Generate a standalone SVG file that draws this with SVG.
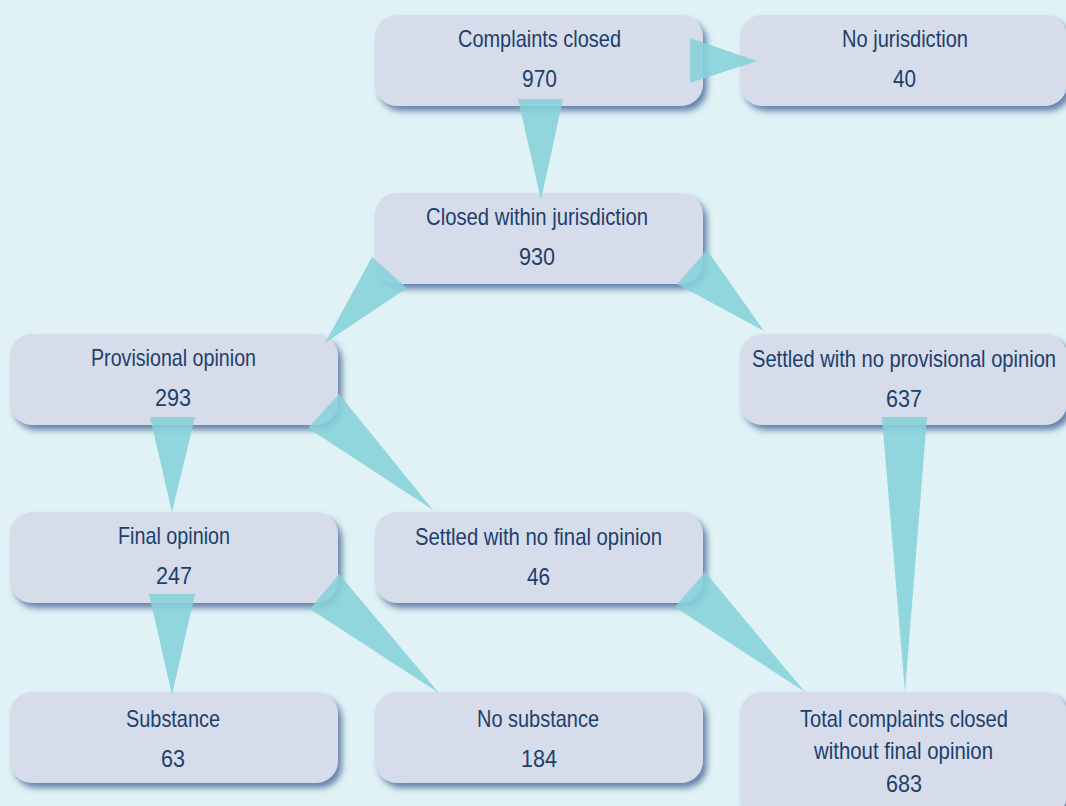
<svg xmlns="http://www.w3.org/2000/svg" width="1066" height="806" viewBox="0 0 1066 806">
<defs>
<filter id="sh" x="-10%" y="-20%" width="125%" height="150%">
<feDropShadow dx="4" dy="5" stdDeviation="3" flood-color="#4f6e9e" flood-opacity="0.85"/>
</filter>
<style>
.box{fill:#d6dce9;filter:url(#sh)}
.t{font-family:"Liberation Sans",Arial,sans-serif;font-size:24px;fill:#1d3f6e;text-anchor:middle}
.c{fill:#86d2da;fill-opacity:0.88}
</style>
</defs>
<rect width="1066" height="806" fill="#e0f2f5"/>
<g id="n-closed"><rect class="box" x="375" y="15" width="328" height="91" rx="22"/><text class="t" x="539.5" y="47" textLength="163" lengthAdjust="spacingAndGlyphs">Complaints closed</text><text class="t" x="539.5" y="87" textLength="35" lengthAdjust="spacingAndGlyphs">970</text></g>
<g id="n-nojur"><rect class="box" x="740" y="15" width="327" height="91" rx="22"/><text class="t" x="905" y="47" textLength="126" lengthAdjust="spacingAndGlyphs">No jurisdiction</text><text class="t" x="904.5" y="87" textLength="23" lengthAdjust="spacingAndGlyphs">40</text></g>
<g id="n-within"><rect class="box" x="375" y="193" width="328" height="91" rx="22"/><text class="t" x="537" y="225" textLength="222" lengthAdjust="spacingAndGlyphs">Closed within jurisdiction</text><text class="t" x="537" y="265" textLength="36" lengthAdjust="spacingAndGlyphs">930</text></g>
<g id="n-prov"><rect class="box" x="10" y="334" width="328" height="91" rx="22"/><text class="t" x="173.5" y="366" textLength="165" lengthAdjust="spacingAndGlyphs">Provisional opinion</text><text class="t" x="173" y="406" textLength="36" lengthAdjust="spacingAndGlyphs">293</text></g>
<g id="n-settprov"><rect class="box" x="740" y="334" width="327" height="91" rx="22"/><text class="t" x="904" y="367" textLength="304" lengthAdjust="spacingAndGlyphs">Settled with no provisional opinion</text><text class="t" x="904" y="407" textLength="36" lengthAdjust="spacingAndGlyphs">637</text></g>
<g id="n-final"><rect class="box" x="10" y="512" width="328" height="91" rx="22"/><text class="t" x="174" y="544" textLength="112" lengthAdjust="spacingAndGlyphs">Final opinion</text><text class="t" x="174" y="584" textLength="36" lengthAdjust="spacingAndGlyphs">247</text></g>
<g id="n-settfinal"><rect class="box" x="375" y="512" width="328" height="91" rx="22"/><text class="t" x="538.5" y="545" textLength="247" lengthAdjust="spacingAndGlyphs">Settled with no final opinion</text><text class="t" x="538.5" y="585" textLength="23" lengthAdjust="spacingAndGlyphs">46</text></g>
<g id="n-subst"><rect class="box" x="10" y="692" width="328" height="91" rx="22"/><text class="t" x="173" y="727" textLength="94" lengthAdjust="spacingAndGlyphs">Substance</text><text class="t" x="173" y="767" textLength="24" lengthAdjust="spacingAndGlyphs">63</text></g>
<g id="n-nosubst"><rect class="box" x="375" y="692" width="328" height="91" rx="22"/><text class="t" x="538" y="727" textLength="122" lengthAdjust="spacingAndGlyphs">No substance</text><text class="t" x="539" y="767" textLength="36" lengthAdjust="spacingAndGlyphs">184</text></g>
<g id="n-total"><rect class="box" x="740" y="692" width="327" height="125" rx="22"/><text class="t" x="904" y="727" textLength="208" lengthAdjust="spacingAndGlyphs">Total complaints closed</text><text class="t" x="903.5" y="759" textLength="179" lengthAdjust="spacingAndGlyphs">without final opinion</text><text class="t" x="904" y="792" textLength="36" lengthAdjust="spacingAndGlyphs">683</text></g>
<g id="connectors">
<polygon class="c" points="690,38 690,83 757,61"/>
<polygon class="c" points="518,99 563,99 541,200"/>
<polygon class="c" points="372,257 407,288 325,343"/>
<polygon class="c" points="707,250 677,284 764,331"/>
<polygon class="c" points="150,417 195,417 172,512"/>
<polygon class="c" points="339,394 308,428 433,510"/>
<polygon class="c" points="882,417 927,417 905,692"/>
<polygon class="c" points="149,594 195,594 172,695"/>
<polygon class="c" points="339,574 310,609 439,693"/>
<polygon class="c" points="705,572 675,607 805,692"/>
</g>
</svg>
